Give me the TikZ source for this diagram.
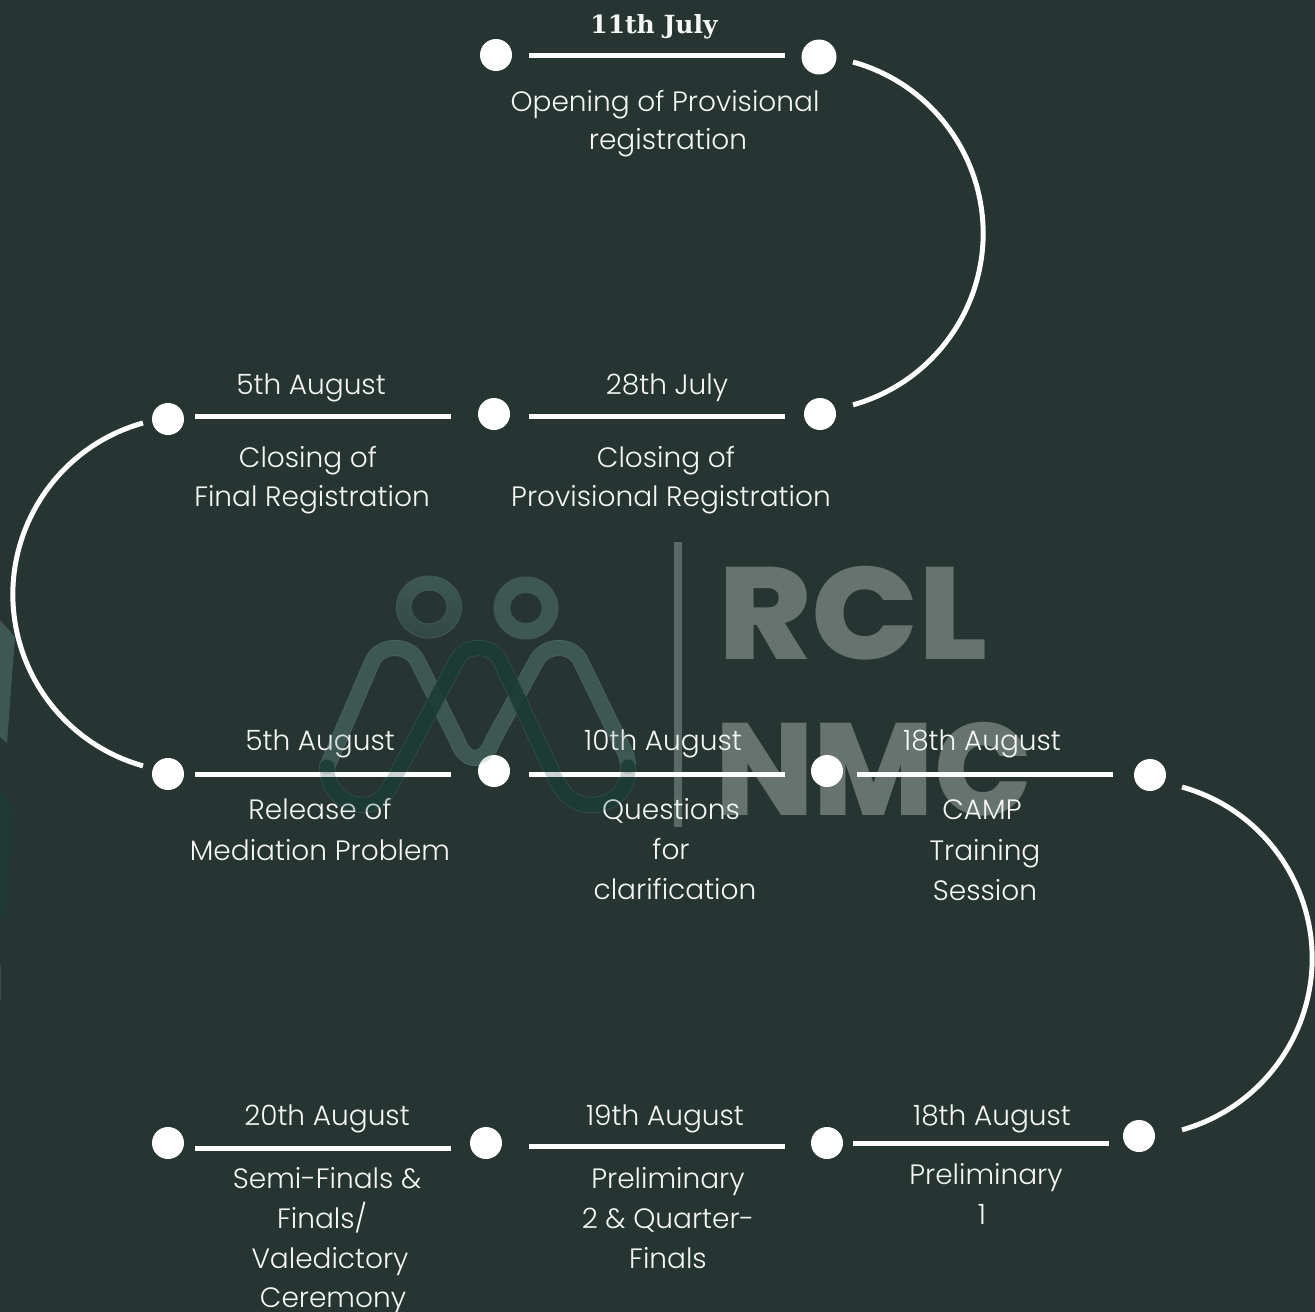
\documentclass[tikz,border=0pt]{standalone}
\usepackage{fontspec}
\setmainfont{Poppins}[UprightFont=* Light,BoldFont=* Bold]
\newfontfamily\datefont{DejaVu Serif}[BoldFont=* Bold]
\newfontfamily\markfont{Poppins ExtraBold}
\definecolor{bgc}{HTML}{263432}
\definecolor{ink}{HTML}{F4F6F5}
\definecolor{wm}{HTML}{66736F}
\definecolor{wmbar}{HTML}{596A66}
\definecolor{loopl}{HTML}{3D5853}
\definecolor{loopd}{HTML}{1D3B35}
\definecolor{rimc}{HTML}{4F6762}
\definecolor{rimd}{HTML}{35514A}
\newcommand{\lightway}{(327,767) -- (373,660) .. controls (382,644) and (408,644) .. (417,660)
  -- (457,740) .. controls (465,764) and (485,764) .. (493,740)
  -- (537,660) .. controls (546,644) and (572,644) .. (580,660)
  -- (623,748) .. controls (627,755) and (628,762) .. (628,767)}
\newcommand{\darkway}{(327,767) .. controls (327,790) and (345,805) .. (362,805)
  .. controls (376,805) and (384,798) .. (390,787)
  -- (457,660) .. controls (466,644) and (491,644) .. (500,660)
  -- (553,773) .. controls (562,795) and (575,805) .. (590,805)
  .. controls (612,805) and (630,790) .. (628,767)}
\tikzset{
  dot/.style={circle,fill=white,draw=none,inner sep=0pt,minimum size=#1},
  dot/.default=32pt,
  seg/.style={draw=white,line width=5pt},
  bow/.style={draw=white,line width=5pt},
  lab/.style={text=ink,anchor=base,inner sep=0pt,yshift=-1pt,font=\fontsize{28}{32}\selectfont},
  wmtext/.style={text=wm,anchor=base west,inner sep=0pt,font=\fontsize{131}{131}\selectfont\markfont},
  strk/.style={line cap=round,line join=round},
}
\begin{document}
\begin{tikzpicture}[x=1pt,y=-1pt]
\path[use as bounding box,fill=bgc] (0,0) rectangle (1315,1312);
% faint shards at left edge
\fill[loopl] (0,620) -- (15,637) -- (7,743) -- (0,737) -- cycle;
\fill[loopd!75!bgc] (0,787) -- (13,807) -- (6,920) -- (0,915) -- cycle;
\fill[loopl!60!bgc] (0,965) rectangle (1,1000);
% watermark
\shade[top color=loopl,bottom color=loopl!55!bgc,even odd rule]
  (429,607) ellipse [x radius=32.5,y radius=31] (429,607) ellipse [x radius=18,y radius=17];
\draw[rimc!70!bgc,line width=1pt] (429,607) ellipse [x radius=32.5,y radius=31] (429,607) ellipse [x radius=18,y radius=17];
\fill[loopl,even odd rule]
  (526,608) ellipse [x radius=32,y radius=31] (526,608) ellipse [x radius=15.7,y radius=15];
\draw[rimc!70!bgc,line width=1pt] (526,608) ellipse [x radius=32,y radius=31];
\draw[rimc,line width=16pt,strk] \lightway;
\draw[loopl,line width=14.5pt,strk] \lightway;
\draw[rimd,line width=16pt,strk] \darkway;
\draw[loopd,line width=14.5pt,strk] \darkway;
\fill[wmbar] (674,542) rectangle (682,827);
\node[wmtext,xscale=1.078] (rcl) at (718,659) {RCL};
\node[wmtext,xscale=0.983] (nmc) at (715,815) {NMC};
% dots
\node[dot] (d1) at (496,55) {};
\node[dot=35pt] (d2) at (819,57) {};
\node[dot] (d3) at (168,419) {};
\node[dot] (d4) at (494,414) {};
\node[dot] (d5) at (820,414) {};
\node[dot] (d6) at (168,774) {};
\node[dot] (d7) at (494,771) {};
\node[dot] (d8) at (827,771) {};
\node[dot] (d9) at (1150,775) {};
\node[dot] (d10) at (168,1143) {};
\node[dot] (d11) at (486,1143) {};
\node[dot] (d12) at (827,1143) {};
\node[dot] (d13) at (1139,1136) {};
% segment ends
\foreach \n/\xa/\xb/\yy in {a/529/785/55,b/195/451/416,c/529/785/416,d/195/451/774,e/529/785/774,f/857/1113/774,g/195/451/1148,h/529/785/1146,i/853/1109/1143}{
  \coordinate (\n1) at (\xa,\yy);
  \coordinate (\n2) at (\xb,\yy);
  \draw[seg] (\n1) -- (\n2);
}
% bows
\coordinate (p1) at (853,62);
\coordinate (p2) at (853,405);
\coordinate (p3) at (143,423);
\coordinate (p4) at (143,768);
\coordinate (p5) at (1182,787);
\coordinate (p6) at (1182,1130);
\draw[bow] (p1) arc[start angle=-74.4,end angle=74.4,radius=178];
\draw[bow] (p3) arc[start angle=254.4,end angle=105.6,radius=178];
\draw[bow] (p5) arc[start angle=-74.4,end angle=74.4,radius=178];
% labels
\node[lab,font=\fontsize{25}{29}\selectfont\datefont\bfseries] (t0) at (654,32) {11th July};
\node[lab] (t1) at (665,110.5) {Opening of Provisional};
\node[lab] (t2) at (668,148.5) {registration};
\node[lab] (t3) at (311,393.5) {5th August};
\node[lab] (t4) at (667,393.5) {28th July};
\node[lab] (t5) at (308,466.5) {Closing of};
\node[lab] (t6) at (312,505.5) {Final Registration};
\node[lab] (t7) at (666,466.5) {Closing of};
\node[lab] (t8) at (671,505.5) {Provisional Registration};
\node[lab] (t9) at (320,749.5) {5th August};
\node[lab] (t10) at (663,749.5) {10th August};
\node[lab] (t11) at (982,749.5) {18th August};
\node[lab] (t12) at (320,818.5) {Release of};
\node[lab] (t13) at (320,859.5) {Mediation Problem};
\node[lab] (t14) at (671,818.5) {Questions};
\node[lab] (t15) at (671,858.5) {for};
\node[lab] (t16) at (675,898.5) {clarification};
\node[lab] (t17) at (982,818.5) {CAMP};
\node[lab] (t18) at (985,859.5) {Training};
\node[lab] (t19) at (985,899.5) {Session};
\node[lab] (t20) at (327,1124.5) {20th August};
\node[lab] (t21) at (665,1124.5) {19th August};
\node[lab] (t22) at (992,1124.5) {18th August};
\node[lab] (t23) at (327,1187.5) {Semi-Finals \&};
\node[lab] (t24) at (322,1227.5) {Finals/};
\node[lab] (t25) at (330,1267.5) {Valedictory};
\node[lab] (t26) at (333,1306) {Ceremony};
\node[lab] (t27) at (668,1187.5) {Preliminary};
\node[lab] (t28) at (668,1227.5) {2 \& Quarter-};
\node[lab] (t29) at (668,1267.5) {Finals};
\node[lab] (t30) at (986,1183.5) {Preliminary};
\node[lab] (t31) at (982,1223.5) {1};
% the watermark lies faintly over the foreground
\draw[loopl,line width=14.5pt,strk,opacity=.14] \lightway;
\draw[loopd,line width=14.5pt,strk,opacity=.22] \darkway;
\end{tikzpicture}
\end{document}
